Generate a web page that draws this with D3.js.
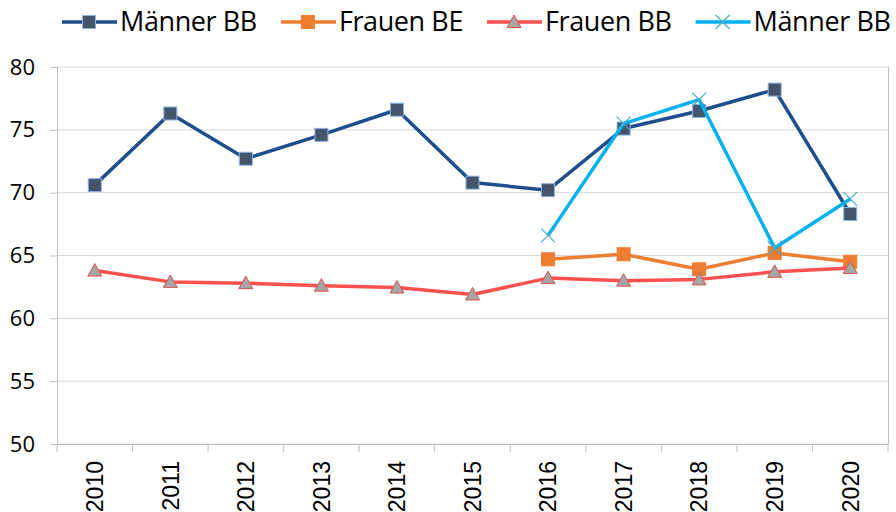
<!DOCTYPE html>
<html>
  <head>
    <meta charset="utf-8" />
    <script src="https://d3js.org/d3.v7.min.js"></script>
    <style>
      body { margin: 0; background: #fff; }
    </style>
  </head>
  <body>
    <svg id="chart"></svg>
    <script>
      var years = ["2010", "2011", "2012", "2013", "2014", "2015", "2016", "2017", "2018", "2019", "2020"];
      var maennerBB = [70.6, 76.3, 72.7, 74.6, 76.6, 70.8, 70.2, 75.1, 76.5, 78.2, 68.3];
      var frauenBE = [null, null, null, null, null, null, 64.7, 65.1, 63.9, 65.2, 64.5];
      var frauenBB = [63.8, 62.9, 62.8, 62.6, 62.45, 61.9, 63.2, 63.0, 63.1, 63.7, 64.0];
      var maennerBB2 = [null, null, null, null, null, null, 66.6, 75.5, 77.4, 65.6, 69.5];
      var yTicks = [50, 55, 60, 65, 70, 75, 80];

      var series = [
        { name: "Männer BB", values: maennerBB, line: "#1F4E8C", marker: "square", fill: "#44546A", stroke: "#8DB4E2" },
        { name: "Frauen BE", values: frauenBE, line: "#ED7D31", marker: "square", fill: "#ED7D31", stroke: "#ED7D31" },
        { name: "Frauen BB", values: frauenBB, line: "#FF5050", marker: "triangle", fill: "#A5A5A5", stroke: "#D9534F" },
        { name: "Männer BB", values: maennerBB2, line: "#00B0F0", marker: "cross", fill: "none", stroke: "#4BACC6" }
      ];

      var width = 896, height = 512;
      var margin = { top: 67, right: 8, bottom: 68, left: 57 };

      var svg = d3.select("#chart")
        .attr("width", width)
        .attr("height", height)
        .style("font-family", "'Open Sans', sans-serif");

      var x = d3.scaleBand()
        .domain(years)
        .range([margin.left, width - margin.right]);

      var y = d3.scaleLinear()
        .domain([50, 80])
        .range([height - margin.bottom, margin.top]);

      // gridlines
      svg.append("g")
        .selectAll("line")
        .data(yTicks)
        .enter().append("line")
        .attr("x1", margin.left)
        .attr("x2", width - margin.right)
        .attr("y1", function(d) { return y(d); })
        .attr("y2", function(d) { return y(d); })
        .attr("stroke", "#D9D9D9")
        .attr("stroke-width", 1);

      // right border
      svg.append("line")
        .attr("x1", width - margin.right + 0.5).attr("x2", width - margin.right + 0.5)
        .attr("y1", margin.top).attr("y2", height - margin.bottom)
        .attr("stroke", "#BFBFBF");

      // y axis
      var yAxis = svg.append("g")
        .attr("transform", "translate(" + margin.left + ",0)")
        .call(d3.axisLeft(y).tickValues(yTicks).tickSize(7).tickPadding(6));
      yAxis.select(".domain").attr("stroke", "#BFBFBF");
      yAxis.selectAll(".tick line").attr("stroke", "#BFBFBF");
      yAxis.selectAll("text")
        .attr("font-size", 22)
        .attr("font-family", "'Open Sans', sans-serif")
        .attr("fill", "#000")
        .attr("dx", -9);

      // x axis
      var xAxis = svg.append("g")
        .attr("transform", "translate(0," + (height - margin.bottom) + ")")
        .call(d3.axisBottom(x).tickSize(0));
      xAxis.select(".domain").attr("stroke", "#BFBFBF");
      xAxis.selectAll("text")
        .attr("font-size", 23)
        .attr("font-family", "'Liberation Sans', Arial, sans-serif")
        .attr("fill", "#000")
        .attr("transform", "rotate(-90)")
        .attr("text-anchor", "end")
        .attr("x", -17)
        .attr("y", 0)
        .attr("dy", "0.36em");

      // band boundary ticks
      svg.append("g")
        .selectAll("line")
        .data(years.concat(["end"]))
        .enter().append("line")
        .attr("x1", function(d, i) { return i < years.length ? x(d) : x.range()[1]; })
        .attr("x2", function(d, i) { return i < years.length ? x(d) : x.range()[1]; })
        .attr("y1", height - margin.bottom)
        .attr("y2", height - margin.bottom + 8)
        .attr("stroke", "#BFBFBF");

      var cx = function(i) { return x(years[i]) + x.bandwidth() / 2; };

      var line = d3.line()
        .defined(function(d) { return d != null; })
        .x(function(d, i) { return cx(i); })
        .y(function(d) { return y(d); });

      function drawMarker(g, s, px, py) {
        if (s.marker === "square") {
          g.append("rect")
            .attr("x", px - 6.5).attr("y", py - 6.5)
            .attr("width", 13).attr("height", 13)
            .attr("fill", s.fill)
            .attr("stroke", s.stroke)
            .attr("stroke-width", 1);
        } else if (s.marker === "triangle") {
          g.append("path")
            .attr("d", "M" + px + "," + (py - 7) + "L" + (px + 7) + "," + (py + 5.5) + "L" + (px - 7) + "," + (py + 5.5) + "Z")
            .attr("fill", s.fill)
            .attr("stroke", s.stroke)
            .attr("stroke-width", 1);
        } else {
          g.append("path")
            .attr("d", "M" + (px - 7) + "," + (py - 7) + "L" + (px + 7) + "," + (py + 7) + "M" + (px + 7) + "," + (py - 7) + "L" + (px - 7) + "," + (py + 7))
            .attr("fill", "none")
            .attr("stroke", s.stroke)
            .attr("stroke-width", 1.2);
        }
      }

      series.forEach(function(s) {
        var g = svg.append("g");
        g.append("path")
          .datum(s.values)
          .attr("d", line)
          .attr("fill", "none")
          .attr("stroke", s.line)
          .attr("stroke-width", 3.5)
          .attr("stroke-linejoin", "round");
        s.values.forEach(function(v, i) {
          if (v != null) drawMarker(g, s, cx(i), y(v));
        });
      });

      // legend
      var legend = svg.append("g");
      var lx = 62, ly = 22;
      series.forEach(function(s) {
        var g = legend.append("g");
        g.append("line")
          .attr("x1", lx).attr("x2", lx + 55)
          .attr("y1", ly).attr("y2", ly)
          .attr("stroke", s.line)
          .attr("stroke-width", 3.5);
        drawMarker(g, s, lx + 27, ly);
        var t = g.append("text")
          .attr("x", lx + 58)
          .attr("y", ly)
          .attr("dy", "0.35em")
          .attr("font-size", 27)
          .attr("letter-spacing", "-0.4px")
          .attr("fill", "#000")
          .text(s.name);
        lx += 58 + t.node().getComputedTextLength() + 24;
      });
    </script>
  </body>
</html>
